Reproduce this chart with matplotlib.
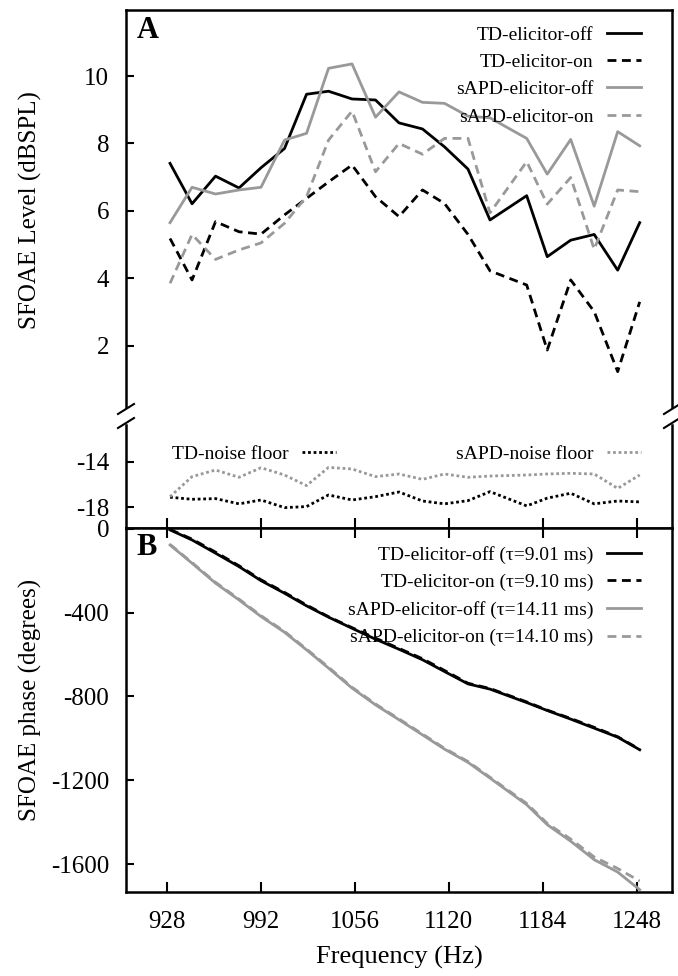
import matplotlib
matplotlib.use("Agg")
import matplotlib.pyplot as plt
from matplotlib.lines import Line2D

plt.rcParams['font.family'] = ['Liberation Serif', 'DejaVu Serif']
plt.rcParams['axes.unicode_minus'] = False

# ---------------- data ----------------
freq = [930, 945, 961, 977, 992, 1008, 1023, 1038, 1054, 1070, 1086,
        1102, 1117, 1133, 1148, 1173, 1187, 1203, 1219, 1235, 1250]

td_off = [7.41, 6.21, 7.03, 6.68, 7.28, 7.85, 9.46, 9.55, 9.32, 9.29, 8.61,
          8.43, 7.90, 7.24, 5.73, 6.45, 4.64, 5.13, 5.30, 4.24, 5.65]
td_on = [5.18, 3.95, 5.68, 5.38, 5.31, 5.88, 6.37, 6.86, 7.36, 6.42, 5.83,
         6.62, 6.22, 5.30, 4.22, 3.80, 1.87, 3.95, 3.01, 1.23, 3.30]
sapd_off = [5.65, 6.70, 6.50, 6.62, 6.70, 8.10, 8.30, 10.23, 10.36, 8.78, 9.53,
            9.22, 9.19, 8.81, 8.76, 8.15, 7.09, 8.12, 6.14, 8.35, 7.93]
sapd_on = [3.85, 5.30, 4.56, 4.84, 5.05, 5.63, 6.42, 8.10, 8.96, 7.16, 8.00,
           7.68, 8.15, 8.15, 5.94, 7.46, 6.20, 6.99, 4.86, 6.62, 6.57]

td_noise = [-17.12, -17.30, -17.24, -17.70, -17.36, -18.03, -17.94, -16.92,
            -17.36, -17.07, -16.66, -17.45, -17.70, -17.42, -16.63, -17.88,
            -17.20, -16.77, -17.70, -17.45, -17.53]
sapd_noise = [-17.07, -15.31, -14.73, -15.37, -14.53, -15.17, -16.10, -14.50,
              -14.64, -15.31, -15.08, -15.55, -15.08, -15.37, -15.26, -15.17,
              -15.08, -15.02, -15.08, -16.34, -15.17]

td_off_ph = [-6, -54, -117, -181, -248, -308, -368, -422, -475, -527, -575,
             -625, -681, -740, -765, -829, -867, -908, -951, -994, -1054]
td_on_ph = [-4, -50, -112, -177, -244, -304, -364, -420, -472, -522, -571,
            -620, -676, -737, -762, -826, -865, -905, -947, -992, -1052]
sapd_off_ph = [-78, -165, -260, -340, -419, -494, -578, -665, -760, -840, -911,
               -983, -1051, -1114, -1189, -1316, -1411, -1490, -1578, -1637, -1721]
sapd_on_ph = [-75, -162, -256, -336, -415, -490, -574, -661, -756, -836, -907,
              -979, -1047, -1110, -1185, -1310, -1405, -1480, -1565, -1620, -1680]

xticks = [928, 992, 1056, 1120, 1184, 1248]
ticksA = [2, 4, 6, 8, 10]
ticksM = [-18, -14]
ticksB = [-1600, -1200, -800, -400, 0]

labelsA = ['TD-elicitor-off', 'TD-elicitor-on', 'sAPD-elicitor-off', 'sAPD-elicitor-on']
labelsB = ['TD-elicitor-off (\u03c4=9.01 ms)', 'TD-elicitor-on (\u03c4=9.10 ms)',
           'sAPD-elicitor-off (\u03c4=14.11 ms)', 'sAPD-elicitor-on (\u03c4=14.10 ms)']

# ---------------- figure ----------------
W, H = 678, 976
fig = plt.figure(figsize=(W / 100, H / 100), dpi=100)

def fx(px):
    return px / W

def fy(py):
    return 1 - py / H

L, R = 126, 672
axA = fig.add_axes([fx(L), fy(407), fx(R - L), (407 - 10) / H])
axM = fig.add_axes([fx(L), fy(528), fx(R - L), (528 - 425) / H])
axB = fig.add_axes([fx(L), fy(892), fx(R - L), (892 - 528) / H])

BLACK = '#000000'
GRAY = '#999999'
LW = 2.0
dash = (0, (3.2, 2.0))
dot = (0, (1, 1))

xlim = (900, 1272)
TICKFS = 18
LEGFS = 14

for ax in (axA, axM, axB):
    ax.set_xlim(*xlim)
    for s in ax.spines.values():
        s.set_linewidth(1.8)
    ax.tick_params(axis='y', direction='in', length=6, width=1.5,
                   labelsize=TICKFS, right=False, pad=12)
    ax.tick_params(axis='x', direction='in', length=7, width=1.5,
                   labelsize=TICKFS)

# ---- panel A
axA.plot(freq, td_off, color=BLACK, lw=LW, ls='-', label=labelsA[0])
axA.plot(freq, td_on, color=BLACK, lw=LW, ls=dash, label=labelsA[1])
axA.plot(freq, sapd_off, color=GRAY, lw=LW, ls='-', label=labelsA[2])
axA.plot(freq, sapd_on, color=GRAY, lw=LW, ls=dash, label=labelsA[3])
axA.set_ylim(0.18, 11.96)
axA.set_yticks(ticksA)
axA.spines['bottom'].set_visible(False)
axA.tick_params(axis='x', bottom=False, labelbottom=False)
axA.text(0.02, 0.985, 'A', transform=axA.transAxes, fontsize=22,
         fontweight='bold', va='top', ha='left')
axA.legend(loc='upper right', bbox_to_anchor=(fx(641), fy(26)),
           bbox_transform=fig.transFigure, frameon=False,
           markerfirst=False, fontsize=LEGFS, handlelength=1.75,
           handletextpad=0.7, labelspacing=0.5, borderpad=0,
           borderaxespad=0)

# ---- middle (noise floor)
axM.plot(freq, td_noise, color=BLACK, lw=2.0, ls=dot)
axM.plot(freq, sapd_noise, color=GRAY, lw=2.0, ls=dot)
axM.set_ylim(-19.82, -10.78)
axM.set_yticks(ticksM)
axM.spines['top'].set_visible(False)
axM.set_xticks(xticks)
axM.tick_params(axis='x', labelbottom=False)
h1 = [Line2D([], [], color=BLACK, lw=2.0, ls=dot)]
h2 = [Line2D([], [], color=GRAY, lw=2.0, ls=dot)]
lg1 = axM.legend(h1, ['TD-noise floor'], loc='upper left',
                 bbox_to_anchor=(fx(172), fy(445)), bbox_transform=fig.transFigure,
                 frameon=False, markerfirst=False, fontsize=LEGFS,
                 handlelength=1.75, handletextpad=0.7, borderpad=0, borderaxespad=0)
axM.add_artist(lg1)
axM.legend(h2, ['sAPD-noise floor'], loc='upper right',
           bbox_to_anchor=(fx(641), fy(445)), bbox_transform=fig.transFigure,
           frameon=False, markerfirst=False, fontsize=LEGFS,
           handlelength=1.75, handletextpad=0.7, borderpad=0, borderaxespad=0)

# ---- panel B
axB.plot(freq, td_off_ph, color=BLACK, lw=LW, ls='-', label=labelsB[0])
axB.plot(freq, td_on_ph, color=BLACK, lw=LW, ls=dash, label=labelsB[1])
axB.plot(freq, sapd_off_ph, color=GRAY, lw=LW, ls='-', label=labelsB[2])
axB.plot(freq, sapd_on_ph, color=GRAY, lw=LW, ls=dash, label=labelsB[3])
axB.set_ylim(-1732, 3)
axB.set_yticks(ticksB)
axB.set_xticks(xticks)
axB.tick_params(axis='x', top=True, pad=14)
axB.set_xlabel('Frequency (Hz)', fontsize=19, labelpad=9)
axB.text(0.02, 0.985, 'B', transform=axB.transAxes, fontsize=22,
         fontweight='bold', va='top', ha='left')
axB.legend(loc='upper right', bbox_to_anchor=(fx(641), fy(546)),
           bbox_transform=fig.transFigure, frameon=False,
           markerfirst=False, fontsize=LEGFS, handlelength=1.75,
           handletextpad=0.7, labelspacing=0.5, borderpad=0,
           borderaxespad=0)

# y labels
fig.text(fx(30), fy(210), 'SFOAE Level (dBSPL)', rotation=90, fontsize=18,
         ha='center', va='center')
fig.text(fx(30), fy(700), 'SFOAE phase (degrees)', rotation=90, fontsize=18,
         ha='center', va='center')

# break marks
for xp in (L, R):
    for yp in (409, 423):
        fig.add_artist(Line2D([fx(xp - 8), fx(xp + 8)], [fy(yp + 5), fy(yp - 5)],
                              color='black', lw=1.5, transform=fig.transFigure))

fig.savefig('out.png', dpi=100)
